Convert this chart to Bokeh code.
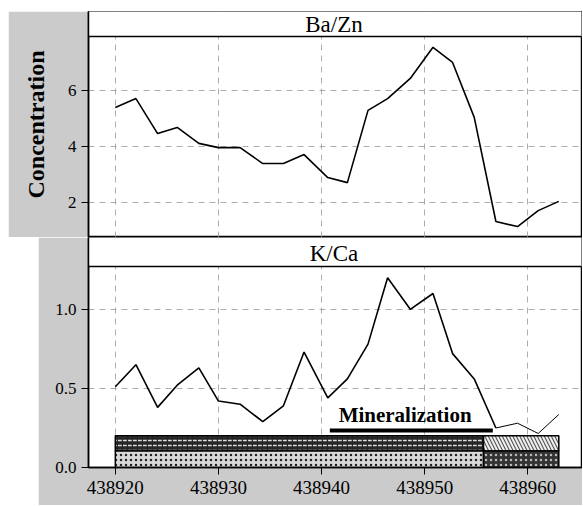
from bokeh.plotting import figure
from bokeh.models import (FixedTicker, Range1d, BasicTickFormatter, Span, Spacer,
                          Grid, NumeralTickFormatter)
from bokeh.layouts import column, row
from bokeh.core.properties import value
from bokeh.embed import file_html
from bokeh.resources import INLINE

# ---- data ----
x_pos = [438920.0, 438922.0, 438924.1, 438926.0, 438928.1, 438930.0, 438932.1,
         438934.3, 438936.3, 438938.3, 438940.6, 438942.5, 438944.5, 438946.4,
         438948.6, 438950.8, 438952.7, 438954.8, 438956.9, 438959.0, 438961.0,
         438963.0]
ba_zn = [5.39, 5.71, 4.46, 4.68, 4.11, 3.96, 3.96, 3.39, 3.39, 3.71, 2.89,
         2.71, 5.29, 5.71, 6.43, 7.54, 7.00, 5.04, 1.32, 1.14, 1.71, 2.04]
k_ca = [0.51, 0.65, 0.38, 0.52, 0.63, 0.42, 0.40, 0.29, 0.39, 0.73, 0.44,
        0.56, 0.78, 1.20, 1.00, 1.10, 0.72, 0.56, 0.25, 0.28, 0.215, 0.335]

x_ticks = [438920, 438930, 438940, 438950, 438960]
ba_ticks = [2, 4, 6]
k_ticks = [0.0, 0.5, 1.0]
panel_titles = ["Ba/Zn", "K/Ca"]

mineral_zone = [438940.8, 438956.6]
mineral_label = "Mineralization"
litho_bounds = [438920.0, 438955.7, 438963.0]
litho_levels = [0.0, 0.105, 0.2]

# ---- styling ----
SERIF = value("Liberation Serif")
GRAY = "#cbcbcb"
x_range = Range1d(438917.4, 438965.2)
title_x = 438941.2


def style(p, yticks):
    p.outline_line_color = "black"
    p.outline_line_width = 1.5
    p.border_fill_color = GRAY
    p.background_fill_color = "white"
    p.yaxis.ticker = FixedTicker(ticks=yticks)
    p.yaxis.major_label_text_font = "Liberation Serif"
    p.yaxis.major_label_text_font_size = "17px"
    p.yaxis.major_label_text_color = "black"
    p.yaxis.axis_line_color = "black"
    p.yaxis.axis_line_width = 1.5
    p.yaxis.major_tick_out = 7
    p.yaxis.major_tick_in = 0
    p.yaxis.minor_tick_line_color = None
    p.yaxis.major_label_standoff = 5
    p.ygrid.grid_line_color = "#999999"
    p.ygrid.grid_line_dash = "6 5"
    p.ygrid.grid_line_width = 1
    p.ygrid.grid_line_alpha = 0.8
    g = Grid(dimension=0, ticker=FixedTicker(ticks=x_ticks),
             grid_line_color="#999999", grid_line_dash="6 5",
             grid_line_width=1, grid_line_alpha=0.8)
    p.add_layout(g)


# ---- top panel ----
top_y0, top_strip, top_y1 = 0.75, 7.93, 8.82
p1 = figure(width=574, height=226, x_range=x_range,
            y_range=Range1d(top_y0, top_y1),
            output_backend="svg", toolbar_location=None,
            x_axis_location=None,
            min_border_left=80, min_border_right=1,
            min_border_top=0, min_border_bottom=0)
p1.xgrid.visible = False
style(p1, ba_ticks)
p1.yaxis.axis_label = "Concentration"
p1.yaxis.axis_label_text_font = "Liberation Serif"
p1.yaxis.axis_label_text_font_style = "bold"
p1.yaxis.axis_label_text_font_size = "24px"
p1.yaxis.axis_label_text_color = "black"
p1.yaxis.axis_label_standoff = 16
p1.quad(left=[x_range.start - 5], right=[x_range.end + 5],
        bottom=[top_strip], top=[top_y1 + 1],
        fill_color="white", line_color=None)
p1.add_layout(Span(location=top_strip, dimension="width",
                   line_color="black", line_width=1.5))
p1.text(x=[title_x], y=[8.34], text=[panel_titles[0]], text_font=SERIF,
        text_font_size="23px", text_align="center",
        text_baseline="middle", text_color="black")
p1.line(x_pos, ba_zn, line_color="black", line_width=1.6)

# ---- bottom panel ----
bot_y0, bot_strip, bot_y1 = 0.0, 1.27, 1.454
p2 = figure(width=544, height=268, x_range=x_range,
            y_range=Range1d(bot_y0, bot_y1),
            output_backend="svg", toolbar_location=None,
            min_border_left=50, min_border_right=1,
            min_border_top=0, min_border_bottom=38)
p2.xgrid.visible = False
style(p2, k_ticks)
p2.yaxis.formatter = NumeralTickFormatter(format="0.0")
p2.xaxis.ticker = FixedTicker(ticks=x_ticks)
p2.xaxis.formatter = BasicTickFormatter(use_scientific=False)
p2.xaxis.major_label_text_font = "Liberation Serif"
p2.xaxis.major_label_text_font_size = "19px"
p2.xaxis.major_label_text_color = "black"
p2.xaxis.axis_line_color = "black"
p2.xaxis.axis_line_width = 1.5
p2.xaxis.major_tick_out = 7
p2.xaxis.major_tick_in = 0
p2.xaxis.minor_tick_line_color = None
p2.xaxis.major_label_standoff = 6

p2.quad(left=[x_range.start - 5], right=[x_range.end + 5],
        bottom=[bot_strip], top=[bot_y1 + 1],
        fill_color="white", line_color=None)
p2.add_layout(Span(location=bot_strip, dimension="width",
                   line_color="black", line_width=1.5))
p2.text(x=[title_x], y=[1.35], text=[panel_titles[1]], text_font=SERIF,
        text_font_size="23px", text_align="center",
        text_baseline="middle", text_color="black")

# lithology column
p2.quad(left=[litho_bounds[0]], right=[litho_bounds[1]],
        bottom=[litho_levels[1]], top=[litho_levels[2]],
        fill_color="#262626", hatch_pattern="horizontal_dash",
        hatch_color="#dcdcdc", hatch_scale=5, hatch_weight=1.5,
        line_color="black", line_width=1.5)
p2.quad(left=[litho_bounds[0]], right=[litho_bounds[1]],
        bottom=[litho_levels[0]], top=[litho_levels[1]],
        fill_color="#d8d8d8", hatch_pattern="dot",
        hatch_color="#222222", hatch_scale=5, hatch_weight=1.5,
        line_color="black", line_width=1.5)
p2.quad(left=[litho_bounds[1]], right=[litho_bounds[2]],
        bottom=[litho_levels[1]], top=[litho_levels[2]],
        fill_color="#555555", hatch_pattern="left_diagonal_line",
        hatch_color="#f0f0f0", hatch_scale=7, hatch_weight=2,
        line_color="black", line_width=1.5)
p2.quad(left=[litho_bounds[1]], right=[litho_bounds[2]],
        bottom=[litho_levels[0]], top=[litho_levels[1]],
        fill_color="#333333", hatch_pattern="dot",
        hatch_color="#bbbbbb", hatch_scale=5, hatch_weight=1.5,
        line_color="black", line_width=1.5)

# mineralization marker
p2.line(mineral_zone, [0.234, 0.234], line_color="black", line_width=4)
p2.text(x=[(mineral_zone[0] + mineral_zone[1]) / 2 - 0.6], y=[0.33],
        text=[mineral_label], text_font=SERIF, text_font_style="bold",
        text_font_size="21px", text_align="center",
        text_baseline="middle", text_color="black")

p2.line(x_pos[:19], k_ca[:19], line_color="black", line_width=1.6)
p2.line(x_pos[18:], k_ca[18:], line_color="black", line_width=1.0)

layout = column(Spacer(height=11, width=582),
                row(Spacer(width=8, height=226), p1),
                row(Spacer(width=38, height=268), p2))

open("out.html", "w").write(file_html(layout, INLINE))
